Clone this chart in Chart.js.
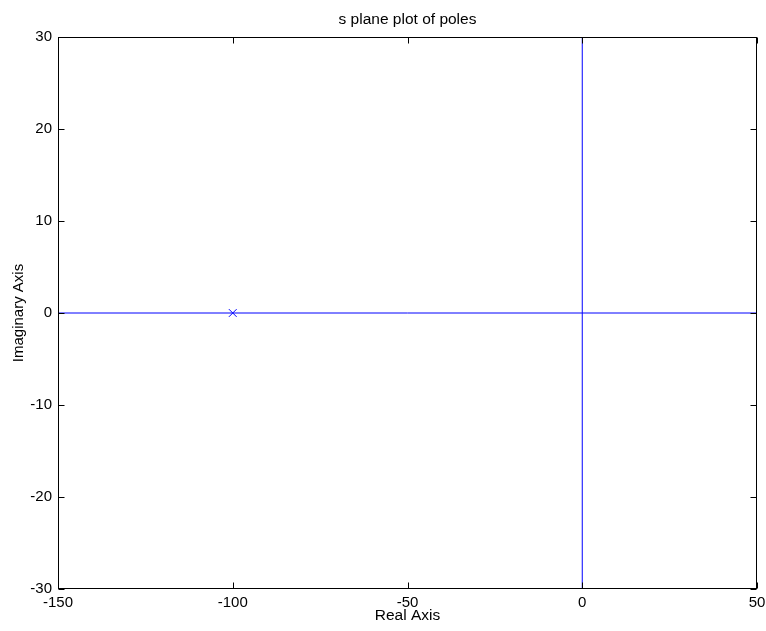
<!DOCTYPE html>
<html><head><meta charset="utf-8">
<script src="https://cdn.jsdelivr.net/npm/chart.js@4/dist/chart.umd.min.js"></script>
<style>html,body{margin:0;padding:0;background:#fff;} canvas{display:block;}</style>
</head><body>
<canvas id="c" width="766" height="631"></canvas>
<script>
const chartTitle = 's plane plot of poles';
const xLabel = 'Real Axis';
const yLabel = 'Imaginary Axis';
const xLimits = [-150, 50];
const yLimits = [-30, 30];
const xTickStep = 50;
const yTickStep = 10;
const poleReal = [-100];
const poleImag = [0];

const poles = poleReal.map((re, i) => ({x: re, y: poleImag[i]}));
const realAxisLine = xLimits.map(x => ({x: x, y: 0}));
const imagAxisLine = yLimits.map(y => ({x: 0, y: y}));

Chart.defaults.font.family = '"Liberation Sans", Arial, sans-serif';
Chart.defaults.font.size = 15;
Chart.defaults.color = '#000';

const framePlugin = {
  id: 'frame',
  afterDatasetsDraw(chart) {
    const {ctx, chartArea: a, scales} = chart;
    const L = Math.round(a.left) + 0.5, R = Math.round(a.right) - 0.5;
    const T = Math.round(a.top) + 0.5, B = Math.round(a.bottom) - 0.5;
    const tl = 6;
    ctx.save();
    ctx.strokeStyle = '#000';
    ctx.lineWidth = 1;
    ctx.beginPath();
    scales.x.ticks.forEach(t => {
      const p = Math.round(scales.x.getPixelForValue(t.value)) + 0.5;
      ctx.moveTo(p, B); ctx.lineTo(p, B - tl);
      ctx.moveTo(p, T); ctx.lineTo(p, T + tl);
    });
    scales.y.ticks.forEach(t => {
      const p = Math.round(scales.y.getPixelForValue(t.value)) + 0.5;
      ctx.moveTo(L, p); ctx.lineTo(L + tl, p);
      ctx.moveTo(R, p); ctx.lineTo(R - tl, p);
    });
    ctx.stroke();
    ctx.strokeRect(L, T, R - L, B - T);
    ctx.restore();
  }
};

function noPad(s) { s.paddingLeft = 0; s.paddingRight = 0; s.paddingTop = 0; s.paddingBottom = 0; }

new Chart(document.getElementById('c'), {
  type: 'scatter',
  data: {
    datasets: [
      {data: realAxisLine, showLine: true, borderColor: '#0000ff', borderWidth: 1, pointRadius: 0, xAxisID: 'x', yAxisID: 'y'},
      {data: imagAxisLine, showLine: true, borderColor: '#0000ff', borderWidth: 1, pointRadius: 0, xAxisID: 'x', yAxisID: 'y'},
      {data: poles, showLine: false, pointStyle: 'crossRot', pointRadius: 5.5, borderColor: '#0000ff', borderWidth: 1, backgroundColor: '#0000ff', xAxisID: 'x', yAxisID: 'y'}
    ]
  },
  options: {
    responsive: false,
    animation: false,
    devicePixelRatio: 1,
    layout: {padding: {left: 0, right: 9, top: 0, bottom: 0}},
    plugins: {legend: {display: false}, tooltip: {enabled: false}, title: {display: false}},
    scales: {
      x: {
        type: 'linear', position: 'bottom', min: xLimits[0], max: xLimits[1],
        ticks: {stepSize: xTickStep, padding: 5, maxRotation: 0, autoSkip: false},
        grid: {display: false, drawTicks: false}, border: {display: false},
        title: {display: true, text: xLabel, font: {size: 15.5}, padding: {top: 0, bottom: 6}},
        afterFit(s) { s.height = 42; noPad(s); }
      },
      x2: {
        type: 'linear', axis: 'x', position: 'top', min: xLimits[0], max: xLimits[1],
        ticks: {display: false}, grid: {display: false, drawTicks: false}, border: {display: false},
        title: {display: true, text: chartTitle, font: {size: 15.5}, padding: {top: 10, bottom: 0}},
        afterFit(s) { s.height = 37; noPad(s); }
      },
      y: {
        type: 'linear', position: 'left', min: yLimits[0], max: yLimits[1],
        ticks: {stepSize: yTickStep, padding: 6},
        grid: {display: false, drawTicks: false}, border: {display: false},
        title: {display: true, text: yLabel, padding: {top: 10, bottom: 0}},
        afterFit(s) { s.width = 58; noPad(s); }
      }
    }
  },
  plugins: [framePlugin]
});
</script>
</body></html>
